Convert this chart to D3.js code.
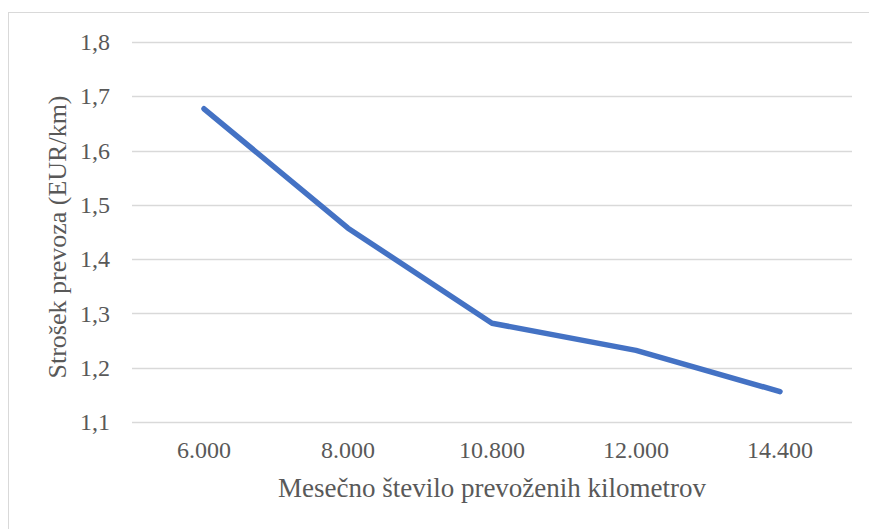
<!DOCTYPE html>
<html>
<head>
<meta charset="utf-8">
<script src="https://cdn.jsdelivr.net/npm/d3@7"></script>
<style>
  html, body { margin: 0; padding: 0; background: #fff; }
  svg { display: block; }
</style>
</head>
<body>
<svg id="chart" width="869" height="529"></svg>
<script>
// Monthly kilometres driven (categories) and transport cost per km
const categories = ["6.000", "8.000", "10.800", "12.000", "14.400"];
const costPerKm = [1.677, 1.457, 1.282, 1.232, 1.156];
const yTicks = [1.1, 1.2, 1.3, 1.4, 1.5, 1.6, 1.7, 1.8];

const width = 869, height = 529;
const margin = { left: 132, right: 17, top: 42, bottom: 107 };
const fontFamily = "'Liberation Serif', 'Times New Roman', serif";
const textColor = "#595959";

const svg = d3.select("#chart");

// Chart area frame
svg.append("rect")
  .attr("x", 8.5).attr("y", 12.5)
  .attr("width", 1000).attr("height", 1000)
  .attr("fill", "#fff")
  .attr("stroke", "#d9d9d9")
  .attr("stroke-width", 1);

const x = d3.scaleBand()
  .domain(categories)
  .range([margin.left, width - margin.right]);

const y = d3.scaleLinear()
  .domain([1.1, 1.8])
  .range([height - margin.bottom, margin.top]);

// Horizontal gridlines
svg.append("g")
  .selectAll("line")
  .data(yTicks)
  .join("line")
  .attr("x1", margin.left)
  .attr("x2", width - margin.right)
  .attr("y1", d => Math.round(y(d)) + 0.5)
  .attr("y2", d => Math.round(y(d)) + 0.5)
  .attr("stroke", "#d9d9d9")
  .attr("stroke-width", 1.5);

// Y axis labels
const fmt = d => d3.format(".1f")(d).replace(".", ",");
const yAxis = d3.axisLeft(y).tickValues(yTicks).tickFormat(fmt).tickSize(0).tickPadding(0);
const gy = svg.append("g")
  .attr("transform", `translate(${margin.left - 22},0)`)
  .call(yAxis);
gy.select(".domain").remove();
gy.selectAll("text")
  .attr("font-family", fontFamily)
  .attr("font-size", 24)
  .attr("fill", textColor);

// X axis labels
const xAxis = d3.axisBottom(x).tickSize(0).tickPadding(0);
const gx = svg.append("g")
  .attr("transform", `translate(0,${height - margin.bottom + 19})`)
  .call(xAxis);
gx.select(".domain").remove();
gx.selectAll("text")
  .attr("font-family", fontFamily)
  .attr("font-size", 24)
  .attr("fill", textColor);

// Cost line
const line = d3.line()
  .x((d, i) => x(categories[i]) + x.bandwidth() / 2)
  .y(d => y(d));

svg.append("path")
  .datum(costPerKm)
  .attr("d", line)
  .attr("fill", "none")
  .attr("stroke", "#4472C4")
  .attr("stroke-width", 5.5)
  .attr("stroke-linecap", "round")
  .attr("stroke-linejoin", "round");

// Axis titles
svg.append("text")
  .attr("x", (margin.left + width - margin.right) / 2)
  .attr("y", 497)
  .attr("text-anchor", "middle")
  .attr("font-family", fontFamily)
  .attr("font-size", 27)
  .attr("fill", textColor)
  .text("Mesečno število prevoženih kilometrov");

svg.append("text")
  .attr("transform", "translate(66,237) rotate(-90)")
  .attr("text-anchor", "middle")
  .attr("font-family", fontFamily)
  .attr("font-size", 26)
  .attr("fill", textColor)
  .text("Strošek prevoza (EUR/km)");
</script>
</body>
</html>
